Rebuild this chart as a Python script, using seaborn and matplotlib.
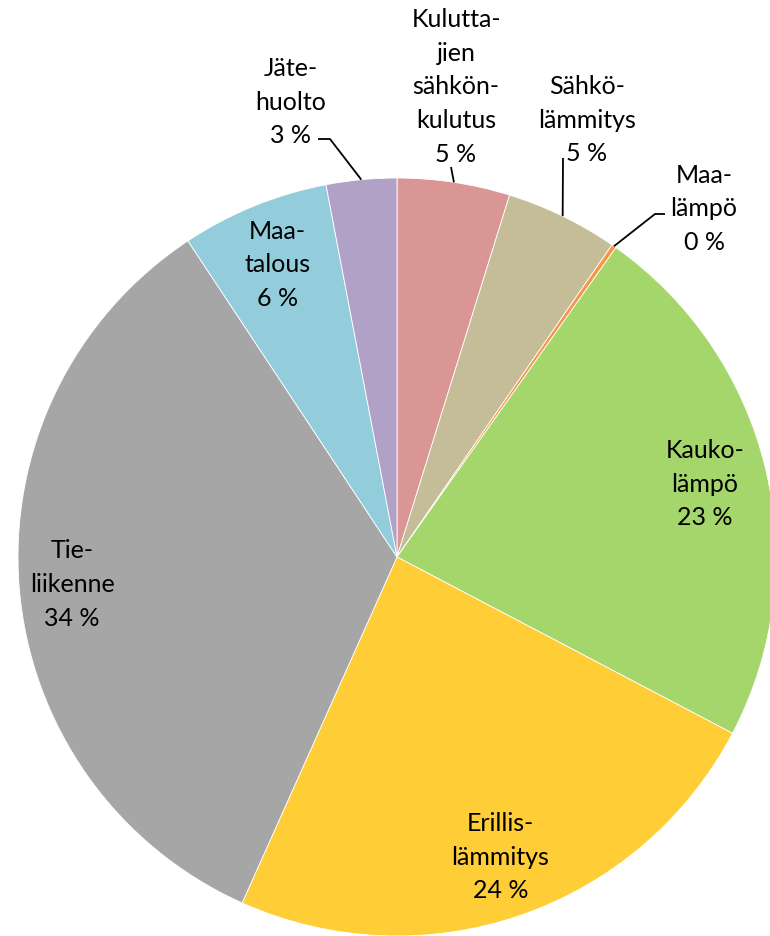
import numpy as np
import seaborn as sns
import matplotlib.pyplot as plt

# emission shares (%), clockwise from 12 o'clock
sectors = ["Kulutta-\njien\nsähkön-\nkulutus", "Sähkö-\nlämmitys", "Maa-\nlämpö",
           "Kauko-\nlämpö", "Erillis-\nlämmitys", "Tie-\nliikenne", "Maa-\ntalous",
           "Jäte-\nhuolto"]
shares = [4.8, 4.8, 0.2, 22.9, 24.0, 34.0, 6.3, 3.0]
colors = ["#D99694", "#C4BD97", "#F79646", "#A4D66C", "#FFCD35", "#A6A6A6",
          "#93CDDC", "#B1A1C7"]

sns.set_theme(style="white")
plt.rcParams["font.family"] = ["Lato", "DejaVu Sans"]

W, H = 770, 937
cx, cy, R = 397, 558, 379


def px(x, y):
    # pixel position -> pie data coordinates
    return (x - cx) / R, (cy - y) / R


fig = plt.figure(figsize=(W / 100, H / 100), dpi=100)
ax = fig.add_axes([0, 0, 1, 1])
wedges, _ = ax.pie(shares, colors=colors, startangle=90, counterclock=False,
                   radius=1, wedgeprops=dict(edgecolor="white", linewidth=0.6))
ax.set_aspect("auto")
ax.set_xlim(-cx / R, (W - cx) / R)
ax.set_ylim(-(H - cy) / R, cy / R)
ax.axis("off")

total = sum(shares)
text_kw = dict(ha="center", va="center", fontsize=18, linespacing=1.56,
               color="black")

# outside labels: text centre and leader elbow in pixels
outside = {0: ((456, 87), [(451, 168)]),
           1: ((587, 120), [(563, 159)]),
           2: ((704, 209), [(655, 215), (665, 215)]),
           7: ((291, 102), [(330, 140), (318, 140)])}

for i, (name, val, w) in enumerate(zip(sectors, shares, wedges)):
    mid = np.deg2rad((w.theta1 + w.theta2) / 2)
    label = f"{name}\n{round(val / total * 100):.0f} %"
    if i in outside:
        (tx, ty), elbow = outside[i]
        ax.text(*px(tx, ty), label, **text_kw)
        pts = [(np.cos(mid), np.sin(mid))] + [px(*p) for p in elbow]
        xs, ys = zip(*pts)
        ax.plot(xs, ys, color="black", lw=1.3, solid_capstyle="butt")
    else:
        r = 0.86 if i == 5 else 0.835
        ax.text(r * np.cos(mid), r * np.sin(mid), label, **text_kw)

fig.savefig("out.png", dpi=100)
